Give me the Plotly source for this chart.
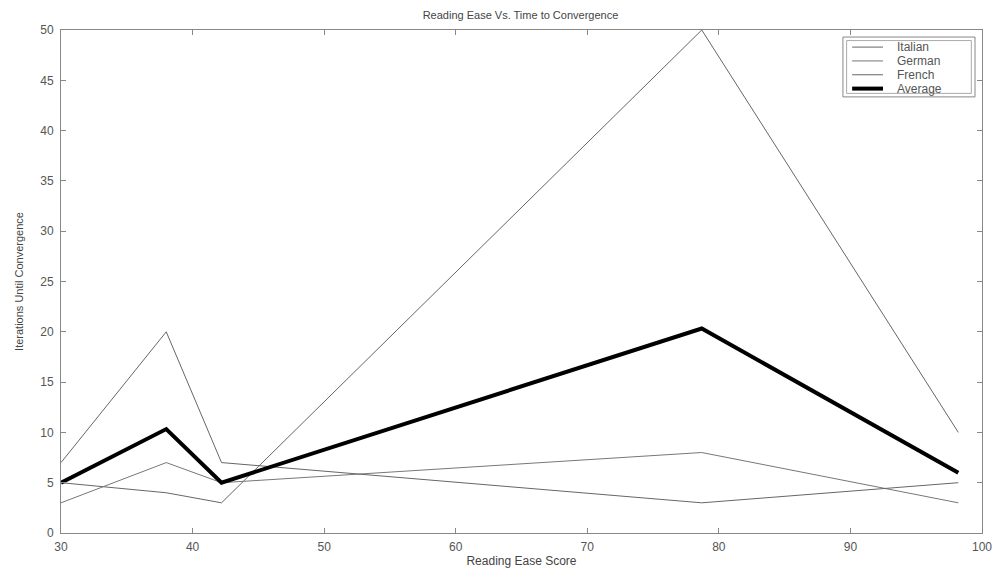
import plotly.graph_objects as go

reading_ease = [30, 38, 42.2, 78.7, 98.2]
italian = [5, 4, 3, 50, 10]
german = [3, 7, 5, 8, 3]
french = [7, 20, 7, 3, 5]
average = [5, 10.33, 5, 20.33, 6]

series = [("Italian", italian, "#666666", 1),
          ("German", german, "#777777", 1),
          ("French", french, "#666666", 1),
          ("Average", average, "#000000", 4)]

fig = go.Figure()
for name, ys, col, w in series:
    fig.add_trace(go.Scatter(x=reading_ease, y=ys, mode="lines", name=name,
                             line=dict(color=col, width=w), showlegend=False))

# compact MATLAB-style legend box (paper coordinates)
box_x0, box_x1, box_y0, box_y1 = 0.849, 0.9924, 0.867, 0.986
fig.add_shape(type="rect", xref="paper", yref="paper", x0=box_x0, x1=box_x1,
              y0=box_y0, y1=box_y1, line=dict(color="#888888", width=1),
              fillcolor="white", layer="above")
fig.add_shape(type="rect", xref="paper", yref="paper", x0=box_x0 + 0.004, x1=box_x1 - 0.004,
              y0=box_y0 + 0.007, y1=box_y1 - 0.007, line=dict(color="#aaaaaa", width=1),
              layer="above")
row_y = 0.966
for name, ys, col, w in series:
    fig.add_shape(type="line", xref="paper", yref="paper", x0=0.859, x1=0.8925,
                  y0=row_y, y1=row_y, line=dict(color=col, width=w), layer="above")
    fig.add_annotation(xref="paper", yref="paper", x=0.9055, y=row_y, text=name,
                       showarrow=False, xanchor="left", yanchor="middle",
                       font=dict(size=12, color="#555555"))
    row_y -= 0.0275

axis_common = dict(showline=True, linecolor="#888888", linewidth=1, mirror="ticks",
                   ticks="inside", ticklen=5, tickcolor="#888888", showgrid=False,
                   zeroline=False, automargin=False, tickfont=dict(size=12, color="#555555"))

fig.update_layout(
    width=999, height=571,
    margin=dict(l=61, r=17, t=30, b=38),
    paper_bgcolor="white", plot_bgcolor="white",
    font=dict(family="Liberation Sans, Arial, sans-serif", color="#444444"),
    title=dict(text="Reading Ease Vs. Time to Convergence", x=0.521, xanchor="center",
               y=0.974, yanchor="middle", font=dict(size=11, color="#444444")),
    xaxis=dict(range=[30, 100], dtick=10, ticklabelstandoff=3, **axis_common,
               title=dict(text="Reading Ease Score", font=dict(size=12, color="#444444"), standoff=3)),
    yaxis=dict(range=[0, 50], dtick=5, ticklabelstandoff=4, **axis_common,
               title=dict(text="Iterations Until Convergence", font=dict(size=11, color="#444444"), standoff=14)),
    showlegend=False,
)

fig.write_html("out.html")
